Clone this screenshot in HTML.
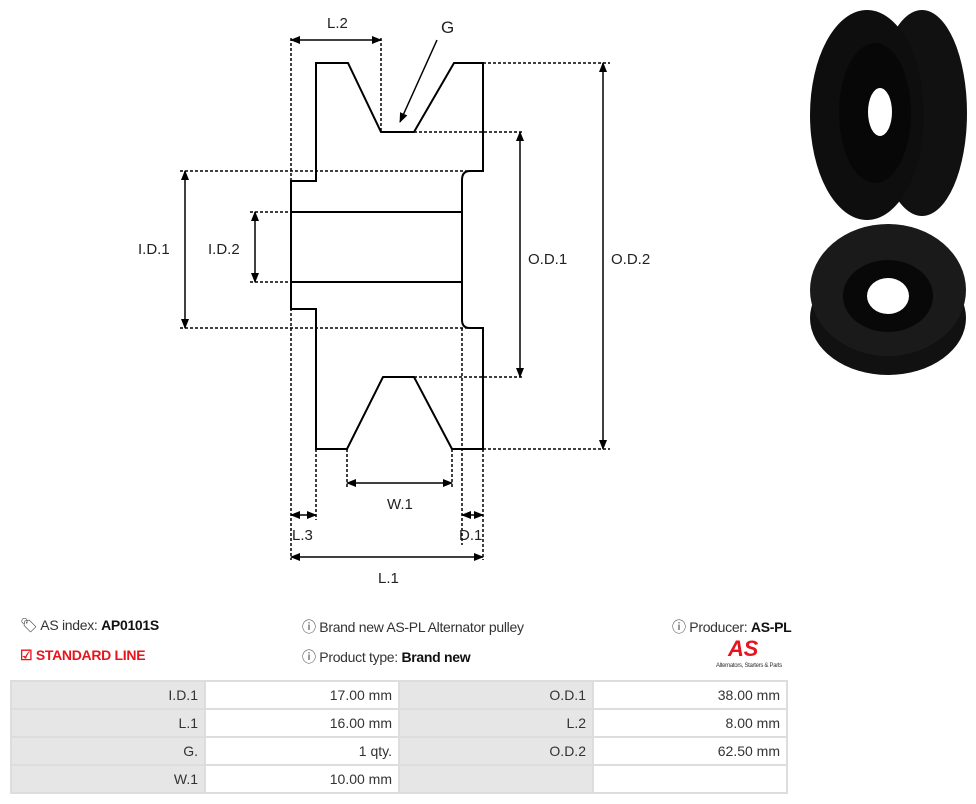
<!DOCTYPE html>
<html><head><style>
body{margin:0;width:976px;height:804px;background:#fff;position:relative;font-family:"Liberation Sans",sans-serif;overflow:hidden}
.t{position:absolute;font-size:14px;color:#333;white-space:nowrap;letter-spacing:-0.3px}
.t b{color:#111}
table{position:absolute;left:10px;top:680px;border-collapse:collapse;font-size:14px;color:#333;table-layout:fixed;width:778px}
td{border:2px solid #ddd;height:26px;padding:0 6px;text-align:right}
td.g{background:#e6e6e6}
</style></head><body>
<svg width="976" height="600" style="position:absolute;left:0;top:0" font-family="Liberation Sans, sans-serif" font-size="15" fill="#222">
<defs><marker id="a" markerWidth="10" markerHeight="8" refX="9" refY="4" orient="auto" markerUnits="userSpaceOnUse"><path d="M0,0 L10,4 L0,8z" fill="#000"/></marker></defs>
<g fill="none" stroke="#000" stroke-width="2">
<path d="M316,181 V63 H348 L381,132 H414 L454,63 H483 V171 H470 Q462,171 462,180 V320 Q462,328 470,328 H483 V449 H452 L414,377 H383 L347,449 H316 V309 H291 V181 Z"/>
<path d="M291,212 H462 M291,282 H462"/>
</g>
<g fill="none" stroke="#000" stroke-width="1.5" stroke-dasharray="3,2">
<path d="M291,38 V560 M381,38 V132 M483,63 H610 M414,132 H523 M180,171 H483 M180,328 H470 M250,212 H291 M250,282 H291 M414,377 H523 M483,449 H610 M347,449 V487 M452,449 V487 M316,449 V520 M462,328 V545 M483,449 V560"/>
</g>
<g stroke="#000" stroke-width="1.5" marker-end="url(#a)">
<path d="M185,250 V328"/><path d="M185,250 V171"/>
<path d="M255,247 V282"/><path d="M255,247 V212"/>
<path d="M520,255 V132"/><path d="M520,255 V377"/>
<path d="M603,256 V63"/><path d="M603,256 V449"/>
<path d="M400,483 H452"/><path d="M400,483 H347"/>
<path d="M303,515 H291"/><path d="M303,515 H316"/>
<path d="M472,515 H462"/><path d="M472,515 H483"/>
<path d="M387,557 H291"/><path d="M387,557 H483"/>
<path d="M336,40 H381"/><path d="M336,40 H291"/>
<path d="M437,40 L400,122"/>
</g>
<text x="327" y="28">L.2</text><text x="441" y="33" font-size="17">G</text>
<text x="138" y="254">I.D.1</text><text x="208" y="254">I.D.2</text>
<text x="528" y="264">O.D.1</text><text x="611" y="264">O.D.2</text>
<text x="387" y="509">W.1</text><text x="292" y="540">L.3</text><text x="459" y="540">D.1</text><text x="378" y="583">L.1</text>
<ellipse cx="922" cy="113" rx="45" ry="103" fill="#111"/>
<ellipse cx="867" cy="115" rx="57" ry="105" fill="#0e0e0e"/>
<ellipse cx="875" cy="113" rx="36" ry="70" fill="#070707"/>
<ellipse cx="880" cy="112" rx="12" ry="24" fill="#fff"/>
<ellipse cx="888" cy="318" rx="78" ry="57" fill="#111"/>
<ellipse cx="888" cy="290" rx="78" ry="66" fill="#1a1a1a"/>
<ellipse cx="888" cy="296" rx="45" ry="36" fill="#080808"/>
<ellipse cx="888" cy="296" rx="21" ry="18" fill="#fff"/>
</svg>
<div class="t" style="left:20px;top:617px">&#x1F3F7;&#xFE0E; AS index: <b>AP0101S</b></div>
<div class="t" style="left:20px;top:647px;color:#e8141c;font-weight:bold">&#9745; STANDARD LINE</div>
<div class="t" style="left:302px;top:617px">&#9432; Brand new AS-PL Alternator pulley</div>
<div class="t" style="left:302px;top:647px">&#9432; Product type: <b>Brand new</b></div>
<div class="t" style="left:672px;top:617px">&#9432; Producer: <b>AS-PL</b></div>
<div class="t" style="left:728px;top:636px;color:#e8141c;font-weight:bold;font-style:italic;font-size:22px">AS</div>
<div class="t" style="left:716px;top:663px;font-size:6px">Alternators, Starters &amp; Parts</div>
<table>
<tr><td class="g">I.D.1</td><td>17.00 mm</td><td class="g">O.D.1</td><td>38.00 mm</td></tr>
<tr><td class="g">L.1</td><td>16.00 mm</td><td class="g">L.2</td><td>8.00 mm</td></tr>
<tr><td class="g">G.</td><td>1 qty.</td><td class="g">O.D.2</td><td>62.50 mm</td></tr>
<tr><td class="g">W.1</td><td>10.00 mm</td><td class="g"></td><td></td></tr>
</table>
</body></html>
